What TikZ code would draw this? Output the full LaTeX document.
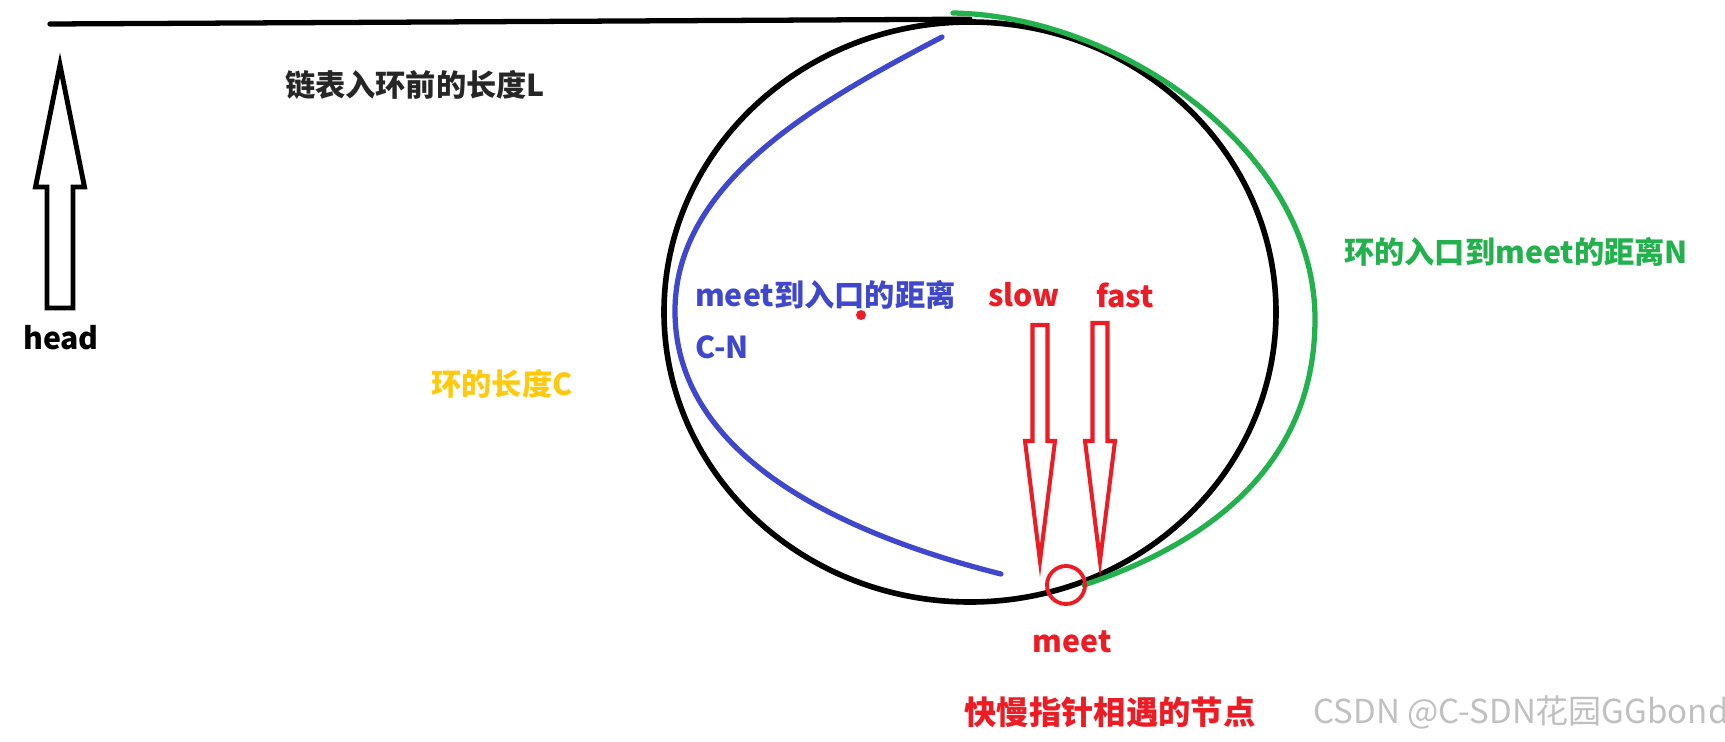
\documentclass[tikz,border=0pt]{standalone}
\usepackage{fontspec}
\setmainfont{Noto Sans CJK SC}
\usetikzlibrary{shapes.geometric,positioning}

\definecolor{pblue}{RGB}{63,72,204}
\definecolor{pgreen}{RGB}{34,177,76}
\definecolor{pred}{RGB}{237,28,36}
\definecolor{pgold}{RGB}{255,201,14}
\definecolor{wmgray}{RGB}{192,192,192}

\begin{document}
\begin{tikzpicture}[
  lbl/.style={font=\fontsize{8.6}{10}\selectfont\bfseries, inner sep=1pt},
  ring/.style={draw, ellipse, line width=1.6pt, minimum width=6.12cm, minimum height=5.80cm, inner sep=0pt},
  blk/.style={draw, line width=1.4pt, line join=miter},
  rarr/.style={draw=pred, line width=1.15pt, line join=miter},
  arcln/.style={line width=1.5pt, line cap=round},
]
\useasboundingbox (0,0) rectangle (17.25,7.41);

% the loop and the list in front of it
\node[ring] (loop) at (9.70,4.29) {};
\coordinate (head) at (0.50,7.17);
\draw[line width=1.5pt, line cap=round] (head) -- (loop.north);

% head pointer
\draw[blk] (0.47,4.33) -- (0.47,5.54) -- (0.355,5.54) -- (0.60,6.76)
  -- (0.845,5.54) -- (0.73,5.54) -- (0.73,4.33) -- cycle;
\node[lbl] (hd) at (0.61,4.03) {head};
\node[lbl, text=black!85] (lenL) at (4.15,6.56) {链表入环前的长度L};
\node[lbl, text=pgold] (lenC) at (5.02,3.57) {环的长度C};

% meet -> entry (blue), entry -> meet (green)
\draw[arcln, draw=pblue] (9.42,7.04) .. controls (8.2,6.4) and (6.75,5.6) .. (6.75,4.3)
  .. controls (6.75,2.9) and (8.3,2.1) .. (10.01,1.67);
\draw[arcln, draw=pgreen] (9.53,7.28) .. controls (11.2,7.25) and (13.15,5.9) .. (13.15,4.22)
  .. controls (13.15,2.7) and (12.0,1.95) .. (10.84,1.56);
\node[lbl, text=pblue, anchor=west] (cn1) at (6.91,4.46) {meet到入口的距离};
\node[lbl, text=pblue, anchor=west] (cn2) at (6.91,3.94) {C-N};
\node[lbl, text=pgreen] (lenN) at (15.16,4.89) {环的入口到meet的距离N};
\fill[pred] (8.61,4.26) circle (0.05);

% slow / fast pointers
\node[lbl, text=pred] (slow) at (10.24,4.46) {slow};
\node[lbl, text=pred] (fast) at (11.25,4.46) {fast};
\draw[rarr] (10.325,4.16) -- (10.325,3.00) -- (10.25,3.00) -- (10.40,1.80)
  -- (10.55,3.00) -- (10.475,3.00) -- (10.475,4.16) -- cycle;
\draw[rarr] (10.925,4.18) -- (10.925,3.00) -- (10.85,3.00) -- (11.00,1.80)
  -- (11.15,3.00) -- (11.075,3.00) -- (11.075,4.18) -- cycle;
\node[draw=pred, circle, line width=1.1pt, minimum size=0.38cm, inner sep=0pt] (meetpt) at (10.66,1.56) {};
\node[lbl, text=pred] (meet) at (10.72,0.99) {meet};
\node[lbl, text=pred, font=\fontsize{9.2}{11}\selectfont\bfseries] (meetnote) at (11.10,0.29) {快慢指针相遇的节点};

\node[font=\fontsize{9.4}{11}\selectfont, text=wmgray, inner sep=0pt] (wm) at (15.21,0.29) {CSDN @C-SDN花园GGbond};
\end{tikzpicture}
\end{document}
